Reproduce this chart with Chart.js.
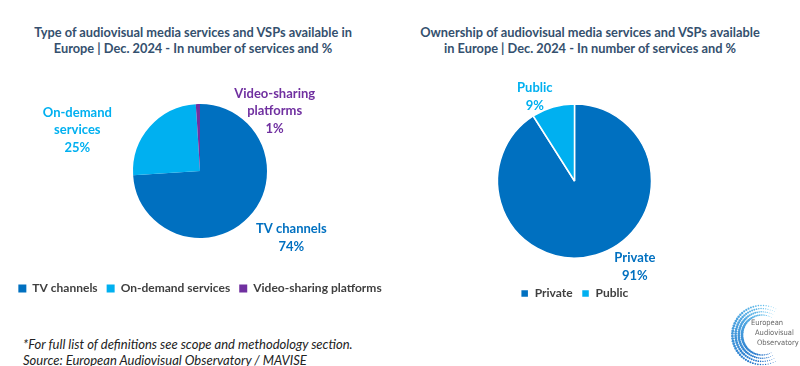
<!DOCTYPE html>
<html>
<head>
<meta charset="utf-8">
<script src="https://cdn.jsdelivr.net/npm/chart.js@4.4.1/dist/chart.umd.min.js"></script>
<style>
  html, body { margin: 0; padding: 0; background: #fff; }
  body { width: 800px; height: 366px; position: relative; overflow: hidden; font-family: Lato, sans-serif; }
  .title { position: absolute; top: 24px; text-align: center; font-weight: bold; font-size: 12.8px; line-height: 16px; color: #34506e; }
  .box { position: absolute; top: 60px; width: 400px; height: 250px; }
  #note { position: absolute; left: 23px; top: 336px; font-style: italic; font-size: 13px; line-height: 16px; color: #222; }
  #logo { position: absolute; left: 722px; top: 300px; }
  .logoText { position: absolute; font-family: "DejaVu Sans Condensed", "DejaVu Sans", sans-serif; font-size: 7.5px; color: #666; white-space: nowrap; }
</style>
</head>
<body>
<div class="title" style="left:0; width:386px;">Type of audiovisual media services and VSPs available in<br>Europe | Dec. 2024 - In number of services and %</div>
<div class="title" style="left:400px; width:380px;">Ownership of audiovisual media services and VSPs available<br>in Europe | Dec. 2024 - In number of services and %</div>

<div class="box" style="left:0;"><canvas id="typeChart"></canvas></div>
<div class="box" style="left:400px;"><canvas id="ownerChart"></canvas></div>

<div id="note">*For full list of definitions see scope and methodology section.<br>Source: European Audiovisual Observatory / MAVISE</div>

<canvas id="logo" width="78" height="66"></canvas>
<div class="logoText" style="left:751px; top:318px;">European</div>
<div class="logoText" style="left:755px; top:328px;">Audiovisual</div>
<div class="logoText" style="left:757px; top:338px;">Observatory</div>

<script>
// data
const typeCategories = ['TV channels', 'On-demand services', 'Video-sharing platforms'];
const typeLabelLines = [['TV channels'], ['On-demand', 'services'], ['Video-sharing', 'platforms']];
const typeShares = [74, 25, 1];

const ownerCategories = ['Private', 'Public'];
const ownerLabelLines = [['Private'], ['Public']];
const ownerShares = [91, 9];

const darkBlue = '#0070c0';
const lightBlue = '#00b0f0';
const purple = '#7030a0';

// labels outside the slices, placed from each arc's angle and radius
const sliceLabels = {
    id: 'sliceLabels',
    afterDatasetsDraw(chart, args, opts) {
        const ctx = chart.ctx;
        const meta = chart.getDatasetMeta(0);
        const values = chart.data.datasets[0].data;
        const total = values.reduce((a, b) => a + b, 0);
        ctx.save();
        ctx.font = 'bold 13px Lato';
        ctx.textAlign = 'center';
        ctx.textBaseline = 'middle';
        meta.data.forEach((arc, i) => {
            const p = arc.getProps(['x', 'y', 'startAngle', 'endAngle', 'outerRadius'], true);
            const a = (p.startAngle + p.endAngle) / 2 + opts.nudge[i] * Math.PI / 180;
            const d = p.outerRadius * opts.dist[i];
            const lines = opts.lines[i].concat(Math.round(values[i] / total * 100) + '%');
            const cx = p.x + Math.cos(a) * d;
            const cy = p.y + Math.sin(a) * d;
            ctx.fillStyle = opts.colors[i];
            lines.forEach((t, k) => ctx.fillText(t, cx, cy + (k - (lines.length - 1) / 2) * 17.5));
        });
        ctx.restore();
    }
};

function legendOpts() {
    return {
        position: 'bottom',
        labels: {
            boxWidth: 8,
            boxHeight: 8,
            padding: 9,
            color: '#404040',
            font: { family: 'Lato', size: 12, weight: 'bold' }
        }
    };
}

new Chart(document.getElementById('typeChart'), {
    type: 'pie',
    data: {
        labels: typeCategories,
        datasets: [{
            data: typeShares,
            backgroundColor: [darkBlue, lightBlue, purple],
            borderWidth: 0,
            radius: 67
        }]
    },
    options: {
        responsive: true,
        maintainAspectRatio: false,
        animation: false,
        layout: { padding: { top: 8.5, bottom: 5.5 } },
        plugins: {
            legend: legendOpts(),
            tooltip: { enabled: false },
            sliceLabels: {
                lines: typeLabelLines,
                colors: [darkBlue, lightBlue, purple],
                nudge: [-7, -23, 53],
                dist: [1.69, 1.93, 1.43]
            }
        }
    },
    plugins: [sliceLabels]
});

new Chart(document.getElementById('ownerChart'), {
    type: 'pie',
    data: {
        labels: ownerCategories,
        datasets: [{
            data: ownerShares,
            backgroundColor: [darkBlue, lightBlue],
            borderColor: '#fff',
            borderWidth: 1.5,
            radius: 77
        }]
    },
    options: {
        responsive: true,
        maintainAspectRatio: false,
        animation: false,
        layout: { padding: { top: 23.5, bottom: 0.5, right: 51 } },
        plugins: {
            legend: legendOpts(),
            tooltip: { enabled: false },
            sliceLabels: {
                lines: ownerLabelLines,
                colors: [darkBlue, lightBlue],
                nudge: [-19, -9],
                dist: [1.36, 1.21]
            }
        }
    },
    plugins: [sliceLabels]
});

// observatory logo: a C-shaped ring of small dots, open to the right
(function drawLogo() {
    const c = document.getElementById('logo').getContext('2d');
    const cx = 40, cy = 35;
    for (let row = 0; row < 4; row++) {
        const r = 20 + row * 3.2;
        for (let deg = 62; deg <= 298; deg += 5) {
            const t = (deg - 62) / 236;
            const a = deg * Math.PI / 180;
            const size = 0.35 + 1.05 * Math.sin(Math.PI * t);
            c.fillStyle = 'rgb(' + Math.round(110 - t * 90) + ',' + Math.round(200 - t * 100) + ',' + Math.round(240 - t * 45) + ')';
            c.beginPath();
            c.arc(cx + Math.cos(a) * r, cy - Math.sin(a) * r, size, 0, Math.PI * 2);
            c.fill();
        }
    }
})();
</script>
</body>
</html>
